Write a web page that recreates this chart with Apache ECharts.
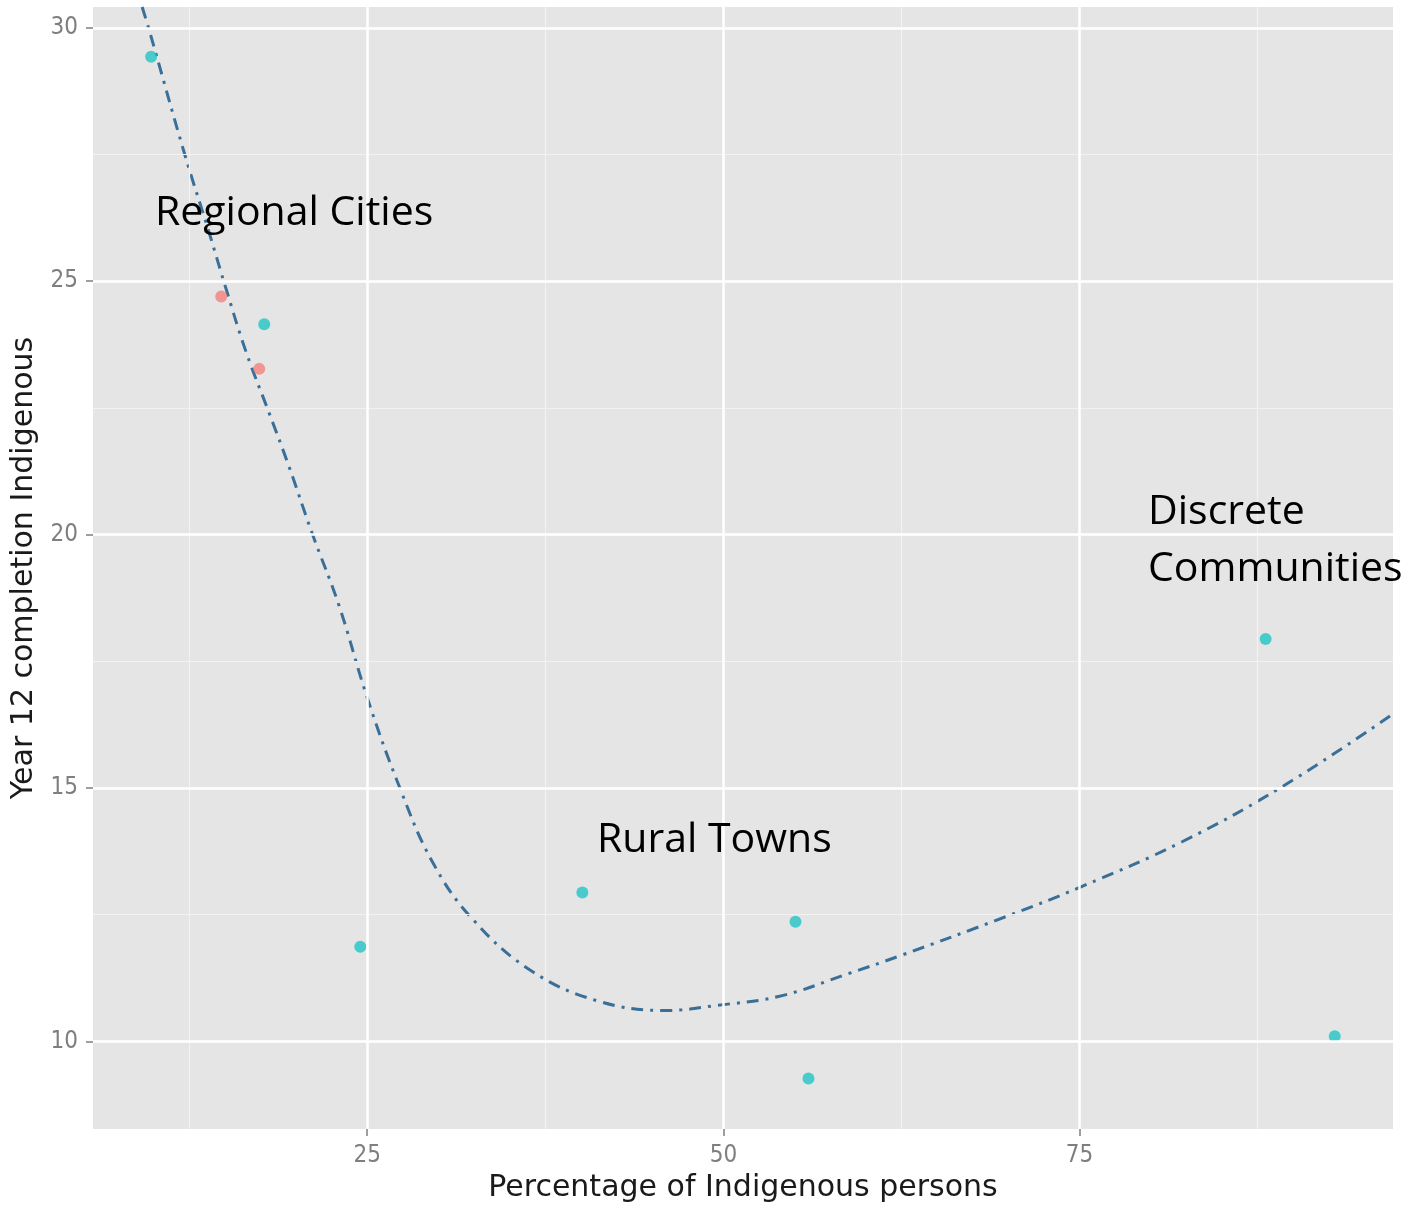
<!DOCTYPE html>
<html><head><meta charset="utf-8">
<script src="https://cdn.jsdelivr.net/npm/echarts@6/dist/echarts.min.js"></script>
<style>html,body{margin:0;padding:0;background:#fff}#c{width:1410px;height:1208px}</style>
</head><body><div id="c"></div>
<script>
// ---- data ----
const xTicks = [25, 50, 75];
const xMinor = [12.5, 37.5, 62.5, 87.5];
const yTicks = [10, 15, 20, 25, 30];
const yMinor = [12.5, 17.5, 22.5, 27.5];

const cyanX = [9.83, 17.77, 24.51, 40.1, 55.06, 55.97, 88.06, 92.91];
const cyanY = [29.43, 24.15, 11.87, 12.94, 12.36, 9.27, 17.94, 10.10];
const redX = [14.75, 17.42];
const redY = [24.70, 23.27];

const curveX = [9.2, 9.69, 12.15, 13.9, 15.1, 16.5, 18.1, 19.5, 21.1, 23.03, 25.0, 27.25, 29.56, 32.37, 36.59, 41.29, 45.99, 49.51, 53.93, 58.8, 62.4, 69.8, 75.1, 82.2, 89.3, 97.0];
const curveY = [30.41, 29.96, 27.54, 25.96, 24.84, 23.60, 22.41, 21.35, 20.05, 18.59, 16.78, 15.03, 13.55, 12.42, 11.38, 10.79, 10.61, 10.71, 10.89, 11.34, 11.69, 12.46, 13.05, 13.94, 15.04, 16.46];

const annotations = [
  { text: 'Regional Cities', x: 155, y: 213 },
  { text: 'Rural Towns', x: 597, y: 840 },
  { text: 'Discrete', x: 1148, y: 512 },
  { text: 'Communities', x: 1148, y: 569 }
];

const xName = 'Percentage of Indigenous persons';
const yName = 'Year 12 completion Indigenous';

// ---- chart ----
const zip = (a, b) => a.map((v, i) => [v, b[i]]);
const chart = echarts.init(document.getElementById('c'), null, { renderer: 'canvas' });

const gridLines = [];
xMinor.forEach(v => gridLines.push({ xAxis: v, lineStyle: { color: '#F2F2F2', width: 1.2, type: 'solid' } }));
yMinor.forEach(v => gridLines.push({ yAxis: v, lineStyle: { color: '#F2F2F2', width: 1.2, type: 'solid' } }));
xTicks.forEach(v => gridLines.push({ xAxis: v, lineStyle: { color: '#FFFFFF', width: 2.5, type: 'solid' } }));
yTicks.forEach(v => gridLines.push({ yAxis: v, lineStyle: { color: '#FFFFFF', width: 2.5, type: 'solid' } }));

const axisFont = 'DejaVu Sans';
const tickFont = "'DejaVu Sans Condensed', 'DejaVu Sans'";

chart.setOption({
  backgroundColor: '#ffffff',
  animation: false,
  grid: { left: 93, right: 17, top: 7, bottom: 77, show: true, backgroundColor: '#E5E5E5', borderWidth: 0 },
  xAxis: {
    type: 'value', min: 5.75, max: 97.0,
    splitLine: { show: false },
    axisLine: { show: false },
    axisTick: { show: true, customValues: xTicks, length: 7, lineStyle: { color: '#7F7F7F', width: 1.5 } },
    axisLabel: { customValues: xTicks, color: '#7F7F7F', fontSize: 24, fontFamily: tickFont, margin: 15 },
    name: xName, nameLocation: 'middle', nameGap: 40,
    nameTextStyle: { fontSize: 30, color: '#1a1a1a', fontFamily: axisFont }
  },
  yAxis: {
    type: 'value', min: 8.27, max: 30.41,
    splitLine: { show: false },
    axisLine: { show: false },
    axisTick: { show: true, customValues: yTicks, length: 7, lineStyle: { color: '#7F7F7F', width: 1.5 } },
    axisLabel: { customValues: yTicks, color: '#7F7F7F', fontSize: 24, fontFamily: tickFont, margin: 15 },
    name: yName, nameLocation: 'middle', nameGap: 48,
    nameTextStyle: { fontSize: 30, color: '#1a1a1a', fontFamily: axisFont }
  },
  series: [
    {
      type: 'line', data: [], silent: true, z: 1,
      markLine: { silent: true, symbol: ['none', 'none'], label: { show: false }, animation: false, data: gridLines }
    },
    {
      type: 'line', name: 'Smooth', data: zip(curveX, curveY), smooth: 0.4, showSymbol: false, z: 3,
      clip: true,
      lineStyle: { color: '#3A6F98', width: 3, type: [12, 7, 3, 7], cap: 'butt' }
    },
    {
      type: 'scatter', name: 'Group A', data: zip(cyanX, cyanY), symbolSize: 12, z: 4,
      itemStyle: { color: '#22C4C6' }
    },
    {
      type: 'scatter', name: 'Group B', data: zip(redX, redY), symbolSize: 12, z: 4,
      itemStyle: { color: '#F5807A' }
    }
  ],
  graphic: annotations.map(a => ({
    type: 'text', x: a.x, y: a.y, z: 10,
    style: { text: a.text, font: '41px "Open Sans"', fill: '#000000', textAlign: 'left', textVerticalAlign: 'middle' }
  }))
});
</script>
</body></html>
